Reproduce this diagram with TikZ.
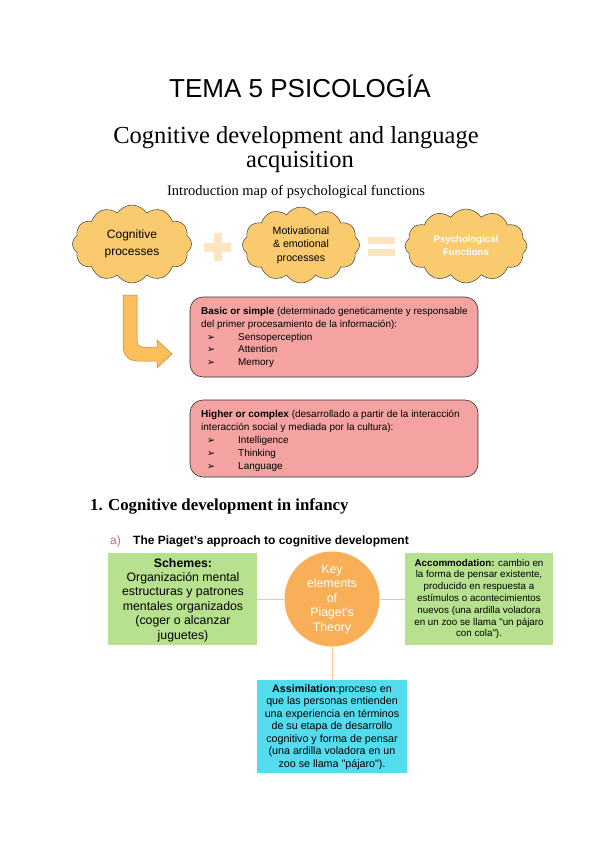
\documentclass[tikz,border=0pt]{standalone}
\usepackage{fontspec}
\setmainfont{Liberation Serif}
\setsansfont{Liberation Sans}
\newfontfamily\arialf{Liberation Sans}
\newfontfamily\dejavu{DejaVu Sans}
\usetikzlibrary{shapes.symbols}
\definecolor{cloudfill}{HTML}{F9CB6E}
\definecolor{paleorange}{HTML}{FDE5BF}
\definecolor{pinkbox}{HTML}{F5A3A2}
\definecolor{greenbox}{HTML}{B7E18E}
\definecolor{orangecirc}{HTML}{F8AF58}
\definecolor{cyanbox}{HTML}{52DCEE}
\definecolor{conn}{HTML}{F9C48E}
\definecolor{arrowfill}{HTML}{FBBF5C}
\definecolor{arrowdraw}{HTML}{B98535}
\definecolor{pinklabel}{HTML}{C0659E}
\newcommand{\bul}{\hspace*{6pt}\makebox[31pt][l]{\dejavu\fontsize{9.5}{9}\selectfont ➢}}
\begin{document}
\begin{tikzpicture}[x=1pt,y=-1pt,
  cloudnode/.style={cloud, cloud puffs=12, cloud puff arc=115, cloud ignores aspect,
    fill=cloudfill, draw=black!75, line width=0.5pt,
    align=center, inner sep=0pt},
  roundbox/.style={draw=black!80, line width=0.6pt, fill=pinkbox, rounded corners=13pt},
  plainrect/.style={inner sep=0pt},
  connline/.style={draw=conn, line width=0.8pt}
]
\useasboundingbox (0,0) rectangle (600,848);
\fill[white] (0,0) rectangle (600,848);

% titles
\node[font=\arialf\fontsize{26}{30}\selectfont] (title) at (300,86) {TEMA 5 PSICOLOGÍA};
\node[anchor=base, font=\rmfamily\fontsize{24.5}{24}\selectfont] (sub1) at (296,143) {Cognitive development and language};
\node[anchor=base, font=\rmfamily\fontsize{24.5}{24}\selectfont] (sub2) at (300,167) {acquisition};
\node[font=\rmfamily\fontsize{14.5}{16}\selectfont] (intro) at (296,192) {Introduction map of psychological functions};

% clouds
\node[cloudnode, minimum width=119pt, minimum height=78pt, font=\arialf\fontsize{12}{17}\selectfont] (c1) at (132,244) {Cognitive\\processes};
\node[cloudnode, minimum width=117pt, minimum height=76pt, font=\arialf\fontsize{10.6}{13.5}\selectfont] (c2) at (301,245) {Motivational\\\&\ emotional\\processes};
\node[cloudnode, minimum width=122pt, minimum height=74pt, font=\arialf\bfseries\fontsize{9.6}{13}\selectfont, text=white] (c3) at (466,246) {Psychological\\Functions};

% plus and equals
\fill[paleorange] (213.5,233) rectangle (221.5,261);
\fill[paleorange] (204,242.5) rectangle (231,251.5);
\node[inner sep=0pt] (plus) at (217.5,247) {};
\fill[paleorange] (368,237) rectangle (395,243.5);
\fill[paleorange] (368,249) rectangle (395,255.5);
\node[inner sep=0pt] (eq) at (381.5,246) {};

% bent arrow
\filldraw[fill=arrowfill, draw=arrowdraw, line width=0.5pt]
  (123,295) -- (123,345) .. controls (123,355) and (128,361) .. (138,361)
  -- (157,361) -- (157,368) -- (172,354) -- (157,340) -- (157,347)
  -- (143,347) .. controls (139.5,347) and (137,345) .. (137,341) -- (137,295) -- cycle;

% pink boxes
\draw[roundbox] (190,297) rectangle (478,377);
\node[anchor=north west, align=left, inner sep=0pt, font=\arialf\fontsize{9.9}{12.6}\selectfont] (b1) at (201,307.5)
{\textbf{Basic or simple} (determinado geneticamente y responsable\\
del primer procesamiento de la información):\\
\bul Sensoperception\\
\bul Attention\\
\bul Memory};

\draw[roundbox] (190,400) rectangle (478,477);
\node[anchor=north west, align=left, inner sep=0pt, font=\arialf\fontsize{10}{13}\selectfont] (b2) at (201,409.5)
{\textbf{Higher or complex} (desarrollado a partir de la interacción\\
interacción social y mediada por la cultura):\\
\bul Intelligence\\
\bul Thinking\\
\bul Language};

% section headings
\node[anchor=base west, inner sep=0pt, font=\rmfamily\bfseries\fontsize{16.8}{18}\selectfont] (h1n) at (90,510.5) {1.};
\node[anchor=base west, inner sep=0pt, font=\rmfamily\bfseries\fontsize{16.8}{18}\selectfont] (h1) at (108,510.5) {Cognitive development in infancy};
\node[anchor=base west, inner sep=0pt, font=\arialf\fontsize{12}{14}\selectfont, text=pinklabel] (h2a) at (110,544.5) {a)};
\node[anchor=base west, inner sep=0pt, font=\arialf\bfseries\fontsize{12}{14}\selectfont] (h2) at (133,544.5) {The Piaget’s approach to cognitive development};

% Piaget diagram
\node[plainrect, fill=greenbox, minimum width=149pt, minimum height=92pt] (sch) at (182.5,599) {};
\node[align=center, inner sep=0pt, font=\arialf\fontsize{12.3}{14.4}\selectfont] (schtxt) at (183,600)
{\textbf{Schemes:}\\Organización mental\\estructuras y patrones\\mentales organizados\\(coger o alcanzar\\juguetes)};

\node[circle, fill=orangecirc, minimum size=95pt, inner sep=0pt] (key) at (332,599) {};
\node[align=center, inner sep=0pt, text=white, font=\arialf\fontsize{12.3}{14.5}\selectfont] (keytxt) at (332,599.5)
{Key\\elements\\of\\Piaget's\\Theory};

\node[plainrect, fill=greenbox, minimum width=148pt, minimum height=92pt] (acc) at (479,599) {};
\node[align=center, inner sep=0pt, font=\arialf\fontsize{9.8}{11.8}\selectfont] (acctxt) at (479,599)
{\textbf{Accommodation:} cambio en\\la forma de pensar existente,\\producido en respuesta a\\estímulos o acontecimientos\\nuevos (una ardilla voladora\\en un zoo se llama "un pájaro\\con cola").};

\node[plainrect, fill=cyanbox, minimum width=150pt, minimum height=93pt] (asi) at (332,726.5) {};
\node[align=center, inner sep=0pt, font=\arialf\fontsize{10.7}{12.5}\selectfont] (asitxt) at (332,727)
{\textbf{Assimilation}:proceso en\\que las personas entienden\\una experiencia en términos\\de su etapa de desarrollo\\cognitivo y forma de pensar\\(una ardilla voladora en un\\zoo se llama "pájaro").};

\draw[connline] (key.west) -- (key.west -| sch.east);
\draw[connline] (key.east) -- (key.east -| acc.west);
\draw[connline] (key.south) -- (asi.north);
\end{tikzpicture}
\end{document}
